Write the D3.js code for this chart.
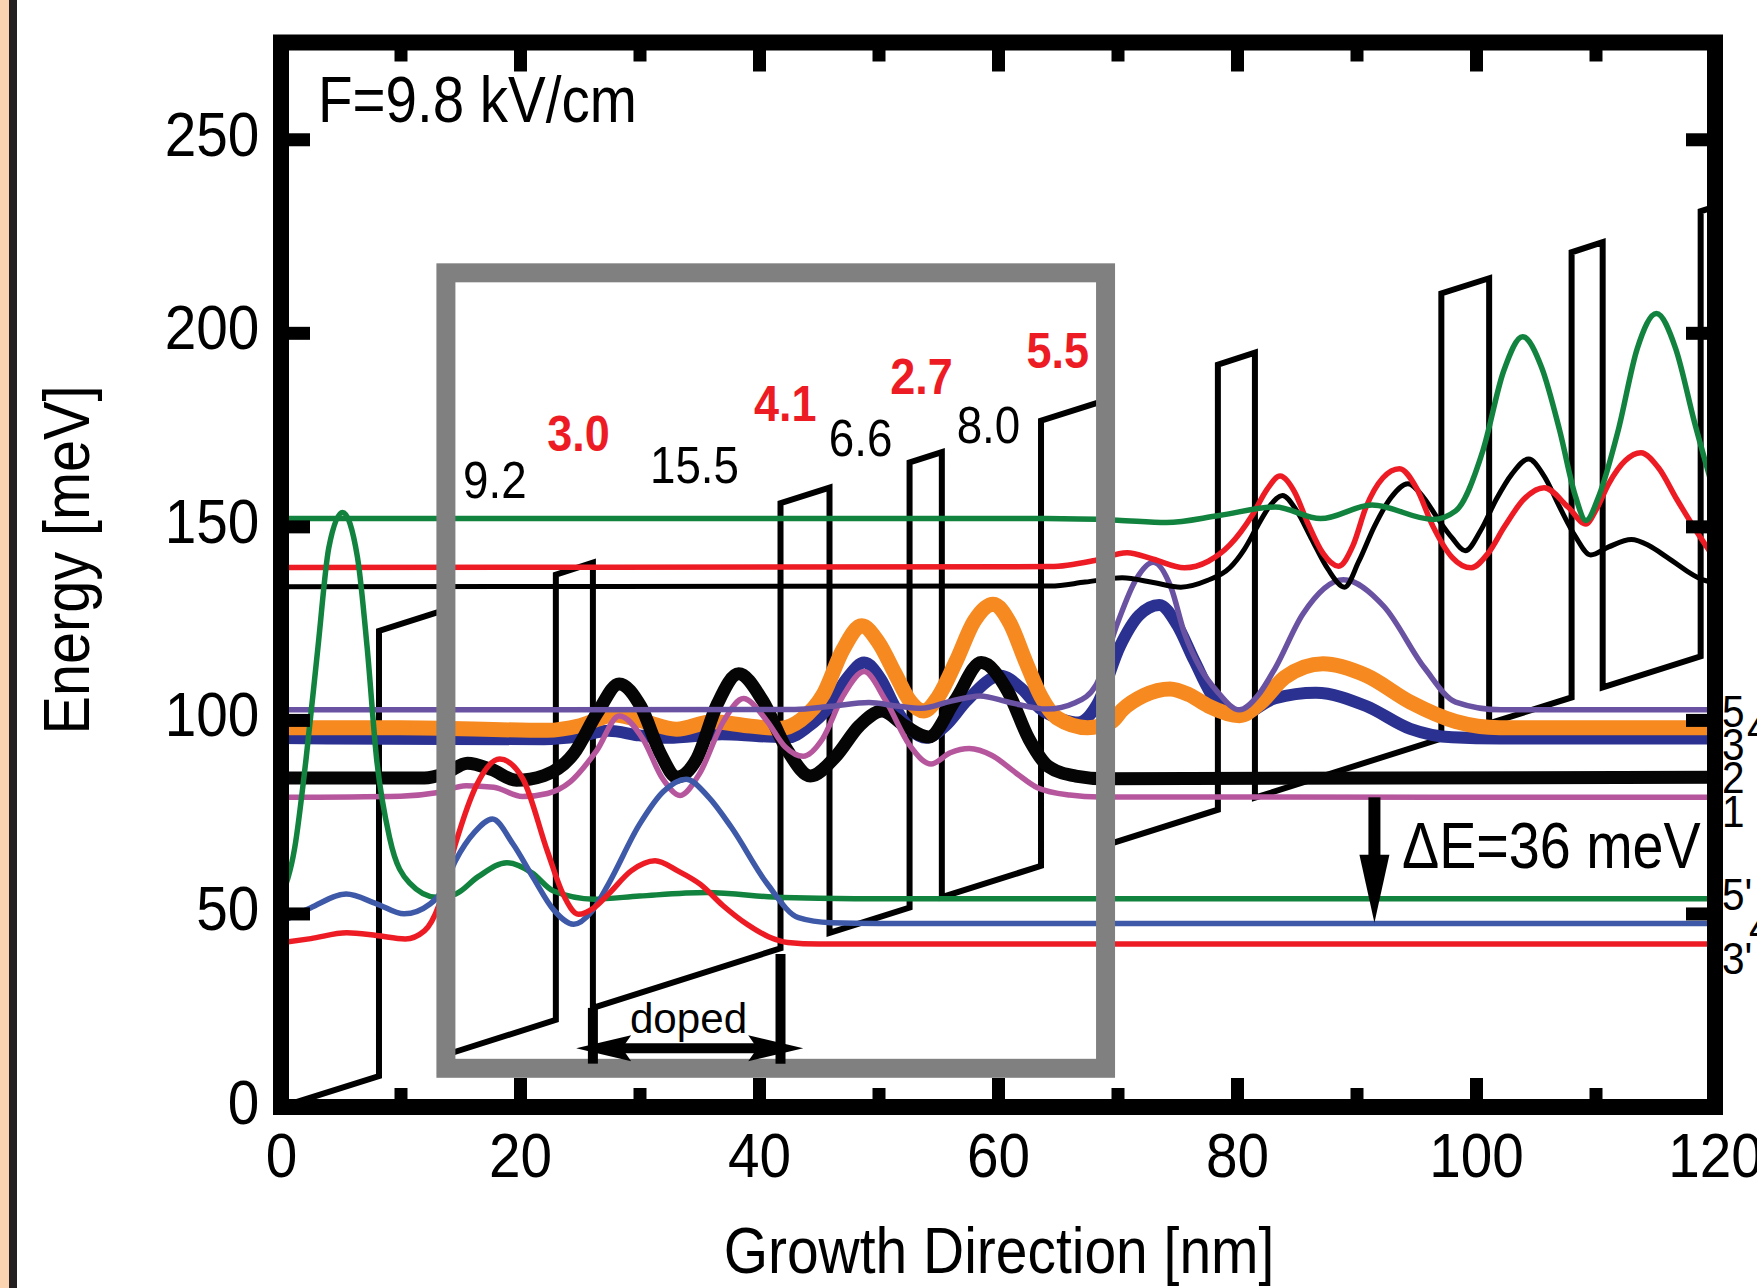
<!DOCTYPE html>
<html>
<head>
<meta charset="utf-8">
<script src="https://cdn.jsdelivr.net/npm/d3@7"></script>
<style>
  body { margin: 0; background: #fff; }
  svg { display: block; }
  text { font-family: "Liberation Sans", Arial, sans-serif; fill: #000; }
</style>
</head>
<body>
<svg id="chart" width="1757" height="1288"></svg>
<script>
// axis ticks
const xTicks = [0, 20, 40, 60, 80, 100, 120];
const xMinorTicks = [10, 30, 50, 70, 90, 110];
const yTicks = [0, 50, 100, 150, 200, 250];

// conduction band edge, corners [nm], [meV]
const bandX = [0, 8.2, 8.2, 13.8, 13.8, 23.0, 23.0, 26.1, 26.1, 41.8, 41.8, 45.9, 45.9, 52.6, 52.6, 55.3, 55.3, 63.6, 63.6, 69.1, 69.1, 78.4, 78.4, 81.5, 81.5, 97.1, 97.1, 101.1, 101.1, 108.0, 108.0, 110.6, 110.6, 118.8, 118.8, 121];
const bandE = [0, 8.0, 123.0, 128.5, 13.5, 22.5, 137.5, 140.6, 25.6, 41.0, 156.0, 160.0, 45.0, 51.5, 166.5, 169.2, 54.2, 62.3, 177.3, 182.7, 67.7, 76.8, 191.8, 194.9, 79.9, 95.2, 210.2, 214.1, 99.1, 105.8, 220.8, 223.4, 108.4, 116.4, 231.4, 233.6];

// layer thicknesses of one period
const layerLabels = ['9.2', '3.0', '15.5', '4.1', '6.6', '2.7', '8.0', '5.5'];
const layerIsBarrier = [false, true, false, true, false, true, false, true];

// wavefunctions |psi|^2 drawn at their energies, [x nm, E meV]
const greenUpper = [[0,152],[64,152],[70,151.6],[74.1,151],[78.5,152.8],[83.2,155],[87,152],[91.3,155.5],[96.4,151.8],[98.3,154],[100.6,169.8],[102.3,190],[103.9,199],[105.5,191],[107,174.8],[108.3,158],[109.2,151.5],[110.3,158],[111.9,174.8],[113.5,196],[115.1,205],[116.7,196],[118.3,176.7],[120,158]];
const redUpper = [[0,139.4],[64.4,139.6],[68.1,141.2],[70.8,143.2],[73,141.5],[75.6,139.3],[77.6,141],[79.4,145.2],[81.3,153],[82.5,159.5],[83.6,163],[84.8,159],[85.9,151],[87.2,143],[88.5,139.7],[89.7,145],[90.8,155],[92.2,162.5],[93.6,164.9],[95,160],[96.4,150],[98,142],[99.6,139.3],[101,143],[102.4,150],[104,157],[105.7,160],[107.7,155],[109.2,150.6],[110,154],[111.1,161],[112.5,167],[113.8,169],[115.3,165],[116.8,157],[118.5,148.5],[120,141.6]];
const blackUpper = [[0,134.4],[64.4,134.6],[67.3,135.6],[70.4,136.7],[73,135.5],[75.3,134.3],[77.5,136],[79.4,139.3],[80.6,144],[81.7,150],[82.8,155.5],[83.8,158],[85,154],[86.2,147],[87.6,139],[89,134.3],[90.2,141],[91.5,150],[92.9,157.5],[94.3,161],[95.6,157.5],[96.8,152],[98,147],[99.1,143.7],[100.4,149],[101.7,157],[103,163.5],[104.4,167.4],[105.7,163],[107,155],[108.3,147.5],[109.6,142.6],[111.1,144.7],[113,146.6],[114.5,145],[116,142],[119,136.2],[120,135.5]];
const level5 = [[0,102.6],[43,102.7],[46,103.5],[49.2,104.5],[51.5,103.6],[53.6,103],[56,104.8],[58.5,106.2],[61,104.5],[64.1,102.8],[66.5,104.5],[68.2,109],[70,125],[71.5,136],[73,140.7],[74.5,134],[75.6,122.4],[77,113],[78.3,107.5],[80.2,102.6],[81.8,106.5],[83.2,113.4],[85.5,127.3],[88.9,136.2],[92.3,129.3],[95.7,113.4],[98.3,104.6],[102.1,102.6],[120,102.6]];
const level4 = [[0,98],[10,98],[22.3,97.3],[25,98.5],[27.9,101.3],[30.5,99.5],[33.1,97.6],[36.1,99.5],[39,98.5],[41.7,97.8],[43.5,100],[45.4,106.7],[47,118],[48.6,124.3],[50,120],[51.4,111.9],[52.6,105],[53.8,102.3],[55,106],[56.5,115.2],[58,125.5],[59.6,129.9],[61,125],[62.3,115.2],[63.6,106],[64.9,100.6],[67.5,98],[69.5,99.5],[70.4,102.6],[72.2,106.3],[74.4,108],[76,106.5],[77.6,103.6],[80.2,101.1],[82,104.5],[84,111],[87.2,114.5],[90.8,111.5],[94.5,104.6],[98.3,99.6],[102,98],[120,98]];
const level3 = [[0,95.3],[22,95],[25,95.8],[27.4,97.2],[30,96],[32.4,95.4],[36.9,96.3],[40,95.8],[42.5,95.5],[44,98],[45.8,103.2],[47.3,110.5],[48.8,114.8],[50.2,110.5],[51.4,103.2],[52.7,97.5],[54,95.4],[55.6,98.5],[57.4,105],[60.2,111.4],[62,108],[63.5,103],[65.5,100],[66.7,99.3],[68.3,104],[70.2,119],[71.8,127],[73.5,129.7],[75,124.5],[76.4,115.5],[78.3,104.5],[80.2,101.1],[83.2,105.6],[86.6,107],[90.8,103.6],[94.5,97.7],[98,95.5],[102,95.2],[120,95.2]];
const level2 = [[0,85],[12,85],[13.8,86.3],[15.6,88.8],[17.6,87.2],[19.7,84.4],[22,85.6],[24.5,91.3],[26.5,102],[28.3,109.3],[30.1,103.5],[31.8,91],[33.1,85.2],[34.8,90],[36.5,104],[38.3,111.9],[40.3,105],[42.4,92],[44.3,85.5],[46.4,90.5],[48.4,98.5],[50.3,102.3],[52.2,98.5],[54.2,95.6],[56.4,105],[58.6,114.8],[60.8,107.5],[62.6,95],[64.2,88],[66.5,85.5],[69,84.8],[120,85.2]];
const level1 = [[0,80],[10,80.3],[13,81.2],[15.5,83],[17.8,82.6],[20.2,80.2],[22.3,81],[24.2,84],[26.4,92],[28.3,101],[30.3,95],[31.9,85],[33.4,80.5],[35,86],[37,99.5],[38.7,105.5],[40.6,100],[42.2,93],[43.7,90.6],[45.3,95],[47,106],[48.8,112.5],[50.6,105],[52.6,93.5],[54.4,88.6],[56,91.5],[57.6,92.6],[59.5,90.8],[61.5,86.3],[63.3,82.5],[66,80.6],[68.5,80.1],[120,80]];
const level5p = [[0,54.4],[1.15,67],[2.1,90],[3.1,119],[4,144.5],[5.15,153.6],[6.4,142],[7.2,119],[8,90],[9.1,69.4],[10.75,57.9],[13,54.2],[14.6,55],[16.5,59.5],[18.9,63.1],[21,60.5],[22.8,55.8],[26.2,53.7],[30,54.5],[35.6,55.4],[42,54.1],[48,53.8],[120,53.8]];
const level4p = [[0,47.8],[2.5,51.5],[5.45,55],[8,52.5],[10.3,49.9],[12.5,52.5],[13.5,56],[14.6,63.6],[16.2,71],[17.7,74.4],[19.4,68],[21.1,59.3],[22.8,51],[24.5,47.2],[26,50.5],[27.4,57.6],[30,73],[32,81.5],[33.9,84.7],[35.8,80],[37.7,72.2],[40.7,57.6],[43.3,48.9],[46,47.6],[50,47.4],[120,47.4]];
const level3p = [[0,42.4],[2.5,43.5],[5.5,45],[8,44.3],[10.4,43.4],[12,45.5],[13.2,52],[14.6,68],[16.4,83.4],[18.3,89.9],[20.2,85],[22.3,66],[23.6,55],[24.9,49.8],[26.2,51.5],[27.4,55],[29.3,61],[31.3,63.6],[33.2,61],[35.1,57.5],[37,52],[39,47.2],[40.8,44],[42.4,42.5],[45,42.1],[120,42.1]];

const W = 1757, H = 1288;
const svg = d3.select('#chart');

const x = d3.scaleLinear().domain([0, 120]).range([281, 1715]);
const y = d3.scaleLinear().domain([0, 275]).range([1107, 42.5]);

// page edge strip on the left
svg.append('rect').attr('x', 0).attr('y', 0).attr('width', 9).attr('height', H).attr('fill', '#fcd3b1');
svg.append('rect').attr('x', 9).attr('y', 0).attr('width', 8).attr('height', H).attr('fill', '#231f20');

svg.append('defs').append('clipPath').attr('id', 'plot').append('rect')
  .attr('x', x(0)).attr('y', y(275)).attr('width', x(120) - x(0)).attr('height', y(0) - y(275));

// scaled text helper (the original type is a bit narrow)
function label(g, txt, px, py, size, o) {
  o = o || {};
  return g.append('text')
    .attr('transform', `translate(${px},${py})${o.rotate ? ' rotate(' + o.rotate + ')' : ''} scale(${o.sx || 0.9},1)`)
    .attr('text-anchor', o.anchor || 'start')
    .attr('font-size', size)
    .attr('font-weight', o.bold ? 'bold' : null)
    .style('fill', o.fill || '#000')
    .text(txt);
}

const plot = svg.append('g').attr('clip-path', 'url(#plot)');

// band edge
const line = d3.line().x(d => x(d[0])).y(d => y(d[1]));
plot.append('path')
  .datum(d3.zip(bandX, bandE))
  .attr('d', line)
  .attr('fill', 'none')
  .attr('stroke', '#000')
  .attr('stroke-width', 6)
  .attr('stroke-linejoin', 'miter');

// wavefunctions
const smooth = d3.line().x(d => x(d[0])).y(d => y(d[1])).curve(d3.curveMonotoneX);
const waves = [
  { d: level3, c: '#2b3190', w: 12 },
  { d: level4, c: '#f6891f', w: 15 },
  { d: level2, c: '#050505', w: 13 },
  { d: level1, c: '#b6579e', w: 5.5 },
  { d: level5, c: '#6a52a2', w: 5.5 },
  { d: blackUpper, c: '#000', w: 5 },
  { d: redUpper, c: '#ed1c24', w: 5.5 },
  { d: greenUpper, c: '#12823f', w: 5.5 },
  { d: level5p, c: '#12823f', w: 5.5 },
  { d: level4p, c: '#3d59a8', w: 5.5 },
  { d: level3p, c: '#ed1c24', w: 5.5 }
];
plot.selectAll('path.wave')
  .data(waves)
  .enter()
  .append('path')
  .classed('wave', true)
  .attr('d', d => smooth(d.d))
  .attr('fill', 'none')
  .attr('stroke', d => d.c)
  .attr('stroke-width', d => d.w)
  .attr('stroke-linecap', 'round')
  .attr('stroke-linejoin', 'round');

// grey frame around one period
svg.append('rect')
  .attr('x', x(13.8)).attr('y', y(215.5))
  .attr('width', x(69.0) - x(13.8)).attr('height', y(10) - y(215.5))
  .attr('fill', 'none').attr('stroke', '#808080').attr('stroke-width', 19);

// doped region marker
const ann = svg.append('g');
[[26.1, 25.6], [41.8, 39.5]].forEach(p => {
  ann.append('line')
    .attr('x1', x(p[0])).attr('x2', x(p[0]))
    .attr('y1', y(p[1])).attr('y2', y(11.2))
    .attr('stroke', '#000').attr('stroke-width', 10);
});
const dA = x(24.7), dB = x(43.7), dY = y(15.2);
ann.append('line').attr('x1', dA + 40).attr('x2', dB - 40).attr('y1', dY).attr('y2', dY)
  .attr('stroke', '#000').attr('stroke-width', 10);
ann.append('path').attr('d', `M${dA},${dY} L${dA + 55},${dY - 13} L${dA + 46},${dY} L${dA + 55},${dY + 13} Z`).attr('fill', '#000');
ann.append('path').attr('d', `M${dB},${dY} L${dB - 55},${dY - 13} L${dB - 46},${dY} L${dB - 55},${dY + 13} Z`).attr('fill', '#000');
label(ann, 'doped', x(34.1), y(19.2), 43, { anchor: 'middle', sx: 0.98 });

// energy spacing arrow
const aX = x(91.5), aTop = y(80), aTip = y(47.6);
ann.append('rect').attr('x', aX - 6).attr('y', aTop).attr('width', 12).attr('height', aTip - aTop - 60).attr('fill', '#000');
ann.append('path').attr('d', `M${aX - 15},${aTip - 68} L${aX + 15},${aTip - 68} L${aX},${aTip} Z`).attr('fill', '#000');
label(ann, 'ΔE=36 meV', 1402, 868, 64, { sx: 0.87 });

// layer thickness labels
const layerPos = [[17.9, 157.4], [24.9, 169.5], [34.6, 161.2], [42.2, 177.3], [48.5, 168.2], [53.6, 184.2], [59.2, 171.6], [65, 191]];
layerLabels.forEach((t, i) => {
  const b = layerIsBarrier[i];
  label(ann, t, x(layerPos[i][0]), y(layerPos[i][1]), b ? 50 : 52,
    { anchor: 'middle', bold: b, fill: b ? '#ed1c24' : '#000', sx: b ? 0.9 : 0.88 });
});

// state names at the right edge (the reference crops some of them)
[['5', 1722, 727], ['4', 1747, 743], ['3', 1722, 760], ['2', 1722, 793], ['1', 1722, 827],
 ["5'", 1722, 910], ["4'", 1749, 943], ["3'", 1722, 974]].forEach(l => label(ann, l[0], l[1], l[2], 45));

label(ann, 'F=9.8 kV/cm', 318, 122, 65, { sx: 0.87 });

// axes: inward ticks on all four sides
function axisGroup(gen, tx, ty) {
  const g = svg.append('g').attr('transform', `translate(${tx},${ty})`).call(gen);
  g.attr('font-family', null).attr('font-size', null);
  g.select('.domain').remove();
  g.selectAll('.tick line').attr('stroke', '#000').attr('stroke-width', 13);
  return g;
}
const bottom = axisGroup(d3.axisBottom(x).tickValues(xTicks).tickSize(-29), 0, y(0));
bottom.selectAll('.tick text').attr('y', 70).attr('dy', null).attr('font-size', 63)
  .attr('transform', 'scale(0.9,1)').style('fill', '#000');
axisGroup(d3.axisBottom(x).tickValues(xMinorTicks).tickSize(-19).tickFormat(''), 0, y(0));
axisGroup(d3.axisTop(x).tickValues(xTicks).tickSize(-29).tickFormat(''), 0, y(275));
axisGroup(d3.axisTop(x).tickValues(xMinorTicks).tickSize(-19).tickFormat(''), 0, y(275));
const left = axisGroup(d3.axisLeft(y).tickValues(yTicks).tickSize(-29), x(0), 0);
left.selectAll('.tick text').attr('x', -24).attr('y', 16).attr('dy', null).attr('font-size', 63)
  .attr('transform', 'scale(0.9,1)').style('fill', '#000');
axisGroup(d3.axisRight(y).tickValues(yTicks).tickSize(-29).tickFormat(''), x(120), 0);

// plot frame
svg.append('rect')
  .attr('x', x(0)).attr('y', y(275))
  .attr('width', x(120) - x(0)).attr('height', y(0) - y(275))
  .attr('fill', 'none').attr('stroke', '#000').attr('stroke-width', 16);

// axis titles
label(svg, 'Growth Direction [nm]', 999, 1273, 64, { anchor: 'middle', sx: 0.89 });
label(svg, 'Energy [meV]', 89, 560, 64, { anchor: 'middle', rotate: -90, sx: 0.9 });
</script>
</body>
</html>
